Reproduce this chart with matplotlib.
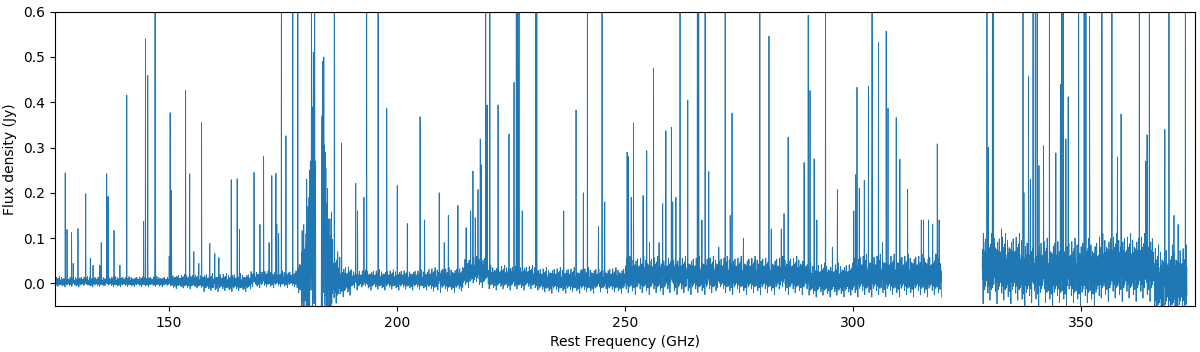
import numpy as np
import matplotlib
matplotlib.use("Agg")
import matplotlib.pyplot as plt

# ---- data ----
# spectral line peaks: rest frequency (GHz) and peak flux density (Jy); lines running off the top get 0.9
line_freq = [127.3, 127.7, 128.7, 129.05, 130.1, 131.8, 132.8, 133.4, 134.9, 135.2, 136.4, 136.7, 138.0, 139.3,
             140.8, 144.5, 144.9, 145.4, 147.0, 147.1, 150.1, 150.3, 150.6, 153.7, 154.6, 155.5, 156.6, 157.2,
             159.0, 160.1, 161.0, 163.7, 165.0, 165.5,
             168.7, 170.0, 170.8, 172.0, 172.6, 173.5, 173.7, 174.1, 174.7, 175.7, 177.2, 178.3,
             181.3, 181.7, 182.0, 183.7, 184.3, 186.3, 187.9, 191.0, 191.4, 192.8, 193.4, 195.9, 197.8,
             200.1, 202.3, 205.1, 206.1, 209.3,
             210.4, 211.3, 213.4, 215.2, 216.2, 216.7, 217.2, 217.8, 218.3, 218.5, 219.5, 219.8, 220.4,
             222.2, 224.6, 225.7, 226.2, 226.5, 226.8, 227.5, 230.5, 230.7, 236.6, 239.3, 240.9, 241.8,
             244.2, 245.0, 245.6, 250.5, 250.8,
             251.4, 251.9, 254.0, 254.8, 255.4, 256.3, 257.5, 258.3, 259.0, 260.2, 260.5, 261.2, 262.1,
             263.8, 265.9, 266.2, 266.9, 267.6, 268.4, 270.6, 272.0, 273.1, 273.5, 276.0, 279.6, 281.6,
             282.1, 284.3, 284.9, 285.8, 289.3, 290.2, 290.6,
             291.5, 292.1, 294.0, 295.5, 296.6, 300.2, 300.6, 300.9, 301.4, 302.5, 303.4, 304.2, 304.3,
             305.6, 306.5, 307.3, 307.7, 309.5, 310.3, 312.0, 315.0, 315.5, 316.6, 317.5, 318.5, 318.9,
             328.6, 329.4, 329.7, 330.6, 330.8, 331.0, 332.6,
             337.3, 337.5, 338.5, 338.9, 339.5, 340.0, 340.4, 340.8, 341.8, 343.1, 344.5, 345.5, 345.8,
             346.1, 346.7, 347.2, 349.5, 350.7, 351.1, 351.9, 354.6, 356.8, 358.0, 358.8, 362.8, 364.2,
             364.5, 365.0, 368.4, 369.3, 370.4, 371.3, 372.9]
line_peak = [0.244, 0.119, 0.112, 0.044, 0.121, 0.198, 0.055, 0.04, 0.04, 0.09, 0.242, 0.192, 0.117, 0.04,
             0.416, 0.137, 0.54, 0.459, 0.9, 0.12, 0.06, 0.377, 0.205, 0.426, 0.242, 0.07, 0.044, 0.355,
             0.088, 0.066, 0.057, 0.229, 0.231, 0.119,
             0.245, 0.13, 0.28, 0.09, 0.238, 0.243, 0.13, 0.11, 0.9, 0.326, 0.9, 0.9,
             0.9, 0.51, 0.9, 0.49, 0.29, 0.9, 0.31, 0.221, 0.16, 0.19, 0.9, 0.9, 0.386,
             0.216, 0.132, 0.368, 0.14, 0.2,
             0.09, 0.15, 0.172, 0.123, 0.16, 0.248, 0.145, 0.207, 0.319, 0.262, 0.9, 0.394, 0.9,
             0.394, 0.33, 0.444, 0.9, 0.9, 0.9, 0.16, 0.9, 0.9, 0.16, 0.383, 0.2, 0.9,
             0.125, 0.9, 0.18, 0.29, 0.28,
             0.19, 0.354, 0.194, 0.293, 0.09, 0.475, 0.09, 0.176, 0.337, 0.345, 0.18, 0.19, 0.9,
             0.405, 0.9, 0.9, 0.14, 0.9, 0.247, 0.08, 0.9, 0.15, 0.376, 0.1, 0.9, 0.546,
             0.12, 0.12, 0.154, 0.323, 0.267, 0.592, 0.426,
             0.275, 0.14, 0.9, 0.08, 0.207, 0.16, 0.24, 0.433, 0.21, 0.228, 0.436, 0.9, 0.54,
             0.532, 0.09, 0.557, 0.387, 0.366, 0.274, 0.208, 0.14, 0.14, 0.14, 0.13, 0.308, 0.14,
             0.11, 0.9, 0.3, 0.9, 0.9, 0.1, 0.12,
             0.9, 0.2, 0.458, 0.23, 0.9, 0.9, 0.9, 0.26, 0.304, 0.9, 0.288, 0.44, 0.9,
             0.9, 0.319, 0.412, 0.9, 0.9, 0.9, 0.59, 0.9, 0.9, 0.279, 0.374, 0.9, 0.27,
             0.328, 0.9, 0.34, 0.9, 0.15, 0.13, 0.9]

# noise band: bin edges (GHz) with lowest / highest excursion of the noise (Jy)
noise_edges = [125.0, 150.0, 157.5, 168.0, 178.0, 179.0, 180.0, 181.0, 182.2, 183.4, 184.2, 185.0,
               186.0, 187.5, 190.0, 207.0, 214.6, 220.0, 231.0, 250.0, 290.0, 300.0, 319.4, 328.3,
               337.0, 354.0, 366.0, 373.3]
noise_lo = [-0.008, -0.012, -0.018, -0.010, -0.030, -0.120, -0.150, -0.150, -0.300, -0.150, -0.150,
            -0.120, -0.050, -0.030, -0.015, -0.020, -0.010, -0.015, -0.022, -0.025, -0.030, -0.030,
            np.nan, -0.045, -0.050, -0.040, -0.080]
noise_hi = [0.015, 0.020, 0.022, 0.028, 0.060, 0.150, 0.250, 0.450, -0.300, 0.500, 0.300, 0.180,
            0.070, 0.040, 0.030, 0.035, 0.060, 0.040, 0.035, 0.060, 0.045, 0.065, np.nan, 0.110,
            0.100, 0.110, 0.085]
noise_shape = [0.1, -0.4, 0.5, -0.2, 0.3, -0.7, 0.2, 0.9, -0.3, 0.0, -0.5, 0.4, -0.1, 0.6, -0.9, 0.2,
               -0.3, 0.7, -0.1, 0.3, -0.6, 1.0, -0.2, 0.4, -0.35, 0.15, -0.55, 0.25, 0.05, -0.15, 0.8,
               -0.45, 0.35, -0.8, 0.1, 0.45, -0.25, 0.6, -0.05, -0.65, 0.3, 0.0, 0.55, -0.3, 0.2, -1.0,
               0.4, -0.1, 0.75, -0.4, 0.1, 0.3, -0.6, 0.5, -0.2, 0.85, -0.5, 0.15, -0.35, 0.45, -0.15]

# ---- build the spectrum on a channel grid ----
step = 0.05
freq = np.arange(noise_edges[0], noise_edges[-1], step)
idx = np.clip(np.searchsorted(noise_edges, freq, side="right") - 1, 0, len(noise_lo) - 1)
lo = np.asarray(noise_lo)[idx]
hi = np.asarray(noise_hi)[idx]
shape = np.resize(np.asarray(noise_shape), freq.size)
flux = 0.5 * (lo + hi) + 0.5 * (hi - lo) * shape
for f, p in zip(line_freq, line_peak):
    j = int(np.argmin(np.abs(freq - f)))
    if not np.isnan(flux[j]):
        flux[j] = max(flux[j], p)

fig = plt.figure(figsize=(12, 3.52), dpi=100)
ax = fig.add_axes([0.0456, 0.1307, 0.9502, 0.8361])
ax.plot(freq, flux, color="#1f77b4", lw=0.6)
ax.set_xlim(125, 375)
ax.set_ylim(-0.05, 0.6)
ax.set_xlabel("Rest Frequency (GHz)")
ax.set_ylabel("Flux density (Jy)")
fig.savefig("out.png", dpi=100)
